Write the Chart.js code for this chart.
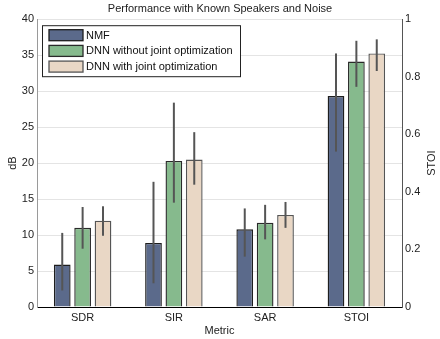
<!DOCTYPE html>
<html>
<head>
<meta charset="utf-8">
<script src="https://cdn.jsdelivr.net/npm/chart.js@4/dist/chart.umd.min.js"></script>
<style>
  html, body { margin: 0; padding: 0; background: #fff; }
  #wrap { width: 440px; height: 339px; }
</style>
</head>
<body>
<div id="wrap"><canvas id="chart" width="440" height="339"></canvas></div>
<script>
// categories
const metrics = ['SDR', 'SIR', 'SAR', 'STOI'];
const seriesNames = ['NMF', 'DNN without joint optimization', 'DNN with joint optimization'];

// dB metrics (SDR, SIR, SAR) - mean and error bar ends
const nmfDb = [5.9, 8.9, 10.8];
const nmfDbLow = [2.3, 3.3, 7.0];
const nmfDbHigh = [10.3, 17.4, 13.7];

const plainDnnDb = [11.0, 20.3, 11.7];
const plainDnnDbLow = [8.1, 14.5, 9.4];
const plainDnnDbHigh = [13.9, 28.4, 14.2];

const jointDnnDb = [12.0, 20.5, 12.8];
const jointDnnDbLow = [9.9, 17.0, 11.0];
const jointDnnDbHigh = [14.0, 24.3, 14.6];

// STOI (right axis), order: NMF, DNN w/o joint, DNN with joint
const stoiMean = [0.733, 0.853, 0.881];
const stoiLow = [0.54, 0.765, 0.82];
const stoiHigh = [0.881, 0.925, 0.93];

// axis ticks
const dbTicks = [0, 5, 10, 15, 20, 25, 30, 35, 40];
const stoiTicks = [0, 0.2, 0.4, 0.6, 0.8, 1];

const FILLS = ['#5b6a8b', '#86ba8d', '#e9d7c5'];
const EDGES = ['#1e1e1e', '#2a2a2a', '#555555'];
const FONT = 'Liberation Sans, Arial, Helvetica, sans-serif';

// dB values go on the left axis, STOI on the right axis; null slots are skipped
const dbSets = [
  [nmfDb, nmfDbLow, nmfDbHigh],
  [plainDnnDb, plainDnnDbLow, plainDnnDbHigh],
  [jointDnnDb, jointDnnDbLow, jointDnnDbHigh],
];

const datasets = [];
dbSets.forEach(([mean, lo, hi], i) => {
  datasets.push({
    label: seriesNames[i],
    data: [...mean, null],
    errLow: [...lo, null],
    errHigh: [...hi, null],
    yAxisID: 'y',
    backgroundColor: FILLS[i],
    borderColor: EDGES[i],
    borderWidth: 1.4,
    skipNull: true,
  });
});
seriesNames.forEach((name, i) => {
  datasets.push({
    label: name + ' (STOI)',
    data: [null, null, null, stoiMean[i]],
    errLow: [null, null, null, stoiLow[i]],
    errHigh: [null, null, null, stoiHigh[i]],
    yAxisID: 'y1',
    backgroundColor: FILLS[i],
    borderColor: EDGES[i],
    borderWidth: 1.4,
    skipNull: true,
  });
});

// error bars drawn through the dataset's own y scale
const errorBars = {
  id: 'errorBars',
  afterDatasetsDraw(chart) {
    const ctx = chart.ctx;
    ctx.save();
    ctx.strokeStyle = '#555';
    ctx.lineWidth = 2;
    chart.data.datasets.forEach((ds, di) => {
      const meta = chart.getDatasetMeta(di);
      const scale = chart.scales[ds.yAxisID];
      meta.data.forEach((bar, j) => {
        if (ds.data[j] == null) return;
        ctx.beginPath();
        ctx.moveTo(bar.x, scale.getPixelForValue(ds.errLow[j]));
        ctx.lineTo(bar.x, scale.getPixelForValue(ds.errHigh[j]));
        ctx.stroke();
      });
    });
    ctx.restore();
  }
};

// boxed legend inside the plot, top left
const boxLegend = {
  id: 'boxLegend',
  afterDraw(chart) {
    const ctx = chart.ctx;
    const area = chart.chartArea;
    const x0 = area.left + 5, y0 = area.top + 6;
    ctx.save();
    ctx.fillStyle = '#fff';
    ctx.fillRect(x0, y0, 198, 51);
    ctx.strokeStyle = '#222';
    ctx.lineWidth = 1;
    ctx.strokeRect(x0 + 0.5, y0 + 0.5, 198, 51);
    ctx.font = '11px ' + FONT;
    ctx.textBaseline = 'middle';
    seriesNames.forEach((name, i) => {
      const sy = y0 + 4.5 + i * 15.7;
      ctx.fillStyle = FILLS[i];
      ctx.fillRect(x0 + 7, sy, 34, 11);
      ctx.strokeStyle = EDGES[i];
      ctx.lineWidth = 1.3;
      ctx.strokeRect(x0 + 7, sy, 34, 11);
      ctx.fillStyle = '#111';
      ctx.fillText(name, x0 + 44, sy + 6);
    });
    ctx.restore();
  }
};

// right axis title, reading bottom to top
const rightTitle = {
  id: 'rightTitle',
  afterDraw(chart) {
    const ctx = chart.ctx;
    const area = chart.chartArea;
    ctx.save();
    ctx.translate(432, (area.top + area.bottom) / 2);
    ctx.rotate(-Math.PI / 2);
    ctx.font = '11px ' + FONT;
    ctx.fillStyle = '#222';
    ctx.textAlign = 'center';
    ctx.textBaseline = 'middle';
    ctx.fillText('STOI', 0, 0);
    ctx.restore();
  }
};

new Chart(document.getElementById('chart'), {
  type: 'bar',
  data: { labels: metrics, datasets },
  plugins: [errorBars, boxLegend, rightTitle],
  options: {
    responsive: false,
    animation: false,
    layout: { padding: 0 },
    categoryPercentage: 0.67,
    barPercentage: 0.82,
    plugins: {
      legend: { display: false },
      tooltip: { enabled: false },
      title: {
        display: true,
        text: 'Performance with Known Speakers and Noise',
        color: '#222',
        font: { family: FONT, size: 11, weight: 'normal' },
        padding: { top: 2, bottom: 4 },
      },
    },
    scales: {
      x: {
        grid: { display: false, drawTicks: false },
        border: { color: '#000', width: 1 },
        ticks: { color: '#222', font: { family: FONT, size: 11 }, padding: 4 },
        title: {
          display: true, text: 'Metric', color: '#222',
          font: { family: FONT, size: 11 }, padding: { top: 0, bottom: 1 },
        },
        afterFit: (scale) => { scale.height = 32; },
      },
      y: {
        position: 'left',
        min: 0, max: 40,
        afterBuildTicks: (scale) => { scale.ticks = dbTicks.map(v => ({ value: v })); },
        grid: { color: '#e4e4e4', drawTicks: false },
        border: { color: '#9a9a9a', width: 1 },
        ticks: { color: '#222', font: { family: FONT, size: 11 }, padding: 3, callback: (v) => String(v) },
        title: {
          display: true, text: 'dB', color: '#222',
          font: { family: FONT, size: 11 }, padding: { top: 6.5, bottom: 0 },
        },
        afterFit: (scale) => { scale.width = 37; },
      },
      y1: {
        position: 'right',
        min: 0, max: 1,
        afterBuildTicks: (scale) => { scale.ticks = stoiTicks.map(v => ({ value: v })); },
        grid: { drawOnChartArea: false, drawTicks: false },
        border: { color: '#555', width: 1 },
        ticks: { color: '#222', font: { family: FONT, size: 11 }, padding: 3, callback: (v) => String(v) },
        afterFit: (scale) => { scale.width = 38; },
      },
    },
  },
});
</script>
</body>
</html>
